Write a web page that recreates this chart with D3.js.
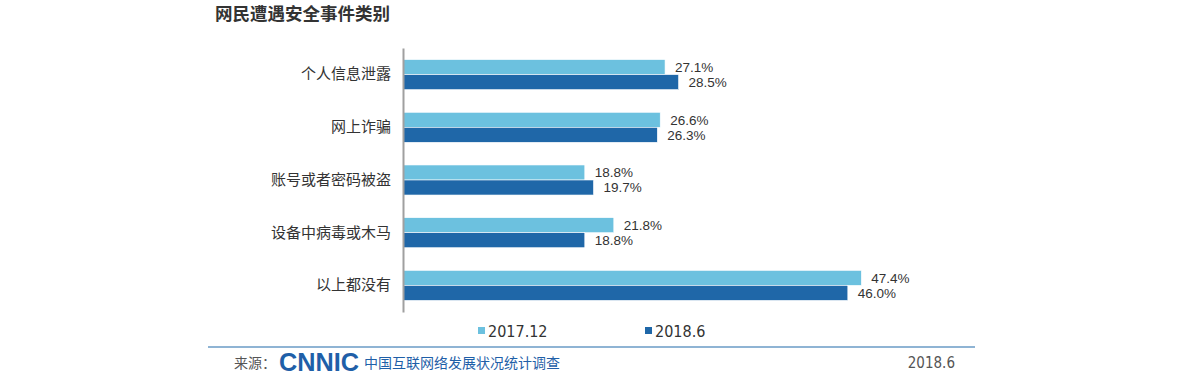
<!DOCTYPE html>
<html>
<head>
<meta charset="utf-8">
<script src="https://cdn.jsdelivr.net/npm/d3@7"></script>
<style>
body { margin: 0; background: #fff; }
svg { display: block; }
</style>
</head>
<body>
<script>
const WIDTH = 1190;
const HEIGHT = 377;

const categories = ['个人信息泄露', '网上诈骗', '账号或者密码被盗', '设备中病毒或木马', '以上都没有'];
const seriesNames = ['2017.12', '2018.6'];
const values2017 = [27.1, 26.6, 18.8, 21.8, 47.4];
const values2018 = [28.5, 26.3, 19.7, 18.8, 46.0];
const colors = ['#6cc1df', '#1f67a8'];

var drawChart = function(){
	var svg = d3.select('body')
		.append('svg')
		.attr('width', WIDTH)
		.attr('height', HEIGHT);

	var x0 = 403;
	var xScale = d3.scaleLinear().domain([0, 10]).range([x0, x0 + 96.7]);
	var yScale = d3.scaleBand().domain(categories).range([48, 312])
		.paddingInner(0.43).paddingOuter(0.22);
	var sub = d3.scaleBand().domain(seriesNames).range([0, yScale.bandwidth()]);

	svg.append('text')
		.attr('x', 215).attr('y', 20)
		.style('font-family', 'Noto Sans CJK SC, sans-serif')
		.style('font-weight', 'bold').style('font-size', '17.5px')
		.attr('fill', '#333')
		.text('网民遭遇安全事件类别');

	var rows = categories.map(function(cat, i){
		return { cat: cat, vals: [values2017[i], values2018[i]] };
	});

	var g = svg.append('g');
	var group = g.selectAll('g.row').data(rows).enter().append('g')
		.attr('transform', function(d){ return 'translate(0,' + yScale(d.cat) + ')'; });

	group.selectAll('rect').data(function(d){
		return d.vals.map(function(v, j){ return { v: v, s: seriesNames[j], j: j }; });
	}).enter().append('rect')
		.attr('x', x0)
		.attr('y', function(d){ return sub(d.s); })
		.attr('width', function(d){ return xScale(d.v) - x0; })
		.attr('height', sub.bandwidth())
		.attr('fill', function(d){ return colors[d.j]; })
		.attr('stroke', '#fff').attr('stroke-width', 0.6);

	group.selectAll('text.val').data(function(d){
		return d.vals.map(function(v, j){ return { v: v, s: seriesNames[j] }; });
	}).enter().append('text')
		.attr('class', 'val')
		.attr('x', function(d){ return xScale(d.v) + 10; })
		.attr('y', function(d){ return sub(d.s) + sub.bandwidth() / 2 + 5; })
		.style('font-family', 'Liberation Sans, Arial, sans-serif')
		.style('font-size', '13.5px')
		.attr('fill', '#333')
		.text(function(d){ return d.v.toFixed(1) + '%'; });

	var yAxis = d3.axisLeft(yScale).tickSize(0).tickPadding(12);
	var ax = svg.append('g')
		.attr('transform', 'translate(' + x0 + ',0)')
		.call(yAxis);
	ax.select('.domain').attr('stroke', '#a0a0a0').attr('stroke-width', 2);
	ax.selectAll('text')
		.style('font-family', 'Noto Sans CJK SC, sans-serif')
		.style('font-size', '15px')
		.attr('fill', '#333');

	// legend
	var lx = [478, 645];
	seriesNames.forEach(function(s, i){
		svg.append('rect').attr('x', lx[i]).attr('y', 327).attr('width', 7).attr('height', 7)
			.attr('fill', colors[i]);
		svg.append('text').attr('x', lx[i] + 10).attr('y', 337)
			.style('font-family', 'DejaVu Sans Condensed, Liberation Sans Narrow, sans-serif')
			.style('font-size', '16px').attr('fill', '#333')
			.text(s);
	});

	// footer
	svg.append('line').attr('x1', 208).attr('x2', 975).attr('y1', 347).attr('y2', 347)
		.attr('stroke', '#8fb4d4').attr('stroke-width', 2);
	svg.append('text').attr('x', 234).attr('y', 368)
		.style('font-family', 'Noto Sans CJK SC, sans-serif').style('font-size', '14px')
		.attr('fill', '#555').text('来源：');
	svg.append('text').attr('x', 279).attr('y', 371)
		.style('font-family', 'Liberation Sans, Arial, sans-serif').style('font-weight', 'bold')
		.style('font-size', '25px').attr('fill', '#1f5fa8')
		.attr('textLength', 80).attr('lengthAdjust', 'spacingAndGlyphs')
		.text('CNNIC');
	svg.append('text').attr('x', 364).attr('y', 368)
		.style('font-family', 'Noto Sans CJK SC, sans-serif').style('font-size', '14px')
		.attr('fill', '#1f5fa8').text('中国互联网络发展状况统计调查');
	svg.append('text').attr('x', 955).attr('y', 368).attr('text-anchor', 'end')
		.style('font-family', 'DejaVu Sans Condensed, sans-serif').style('font-size', '15px')
		.attr('fill', '#555').text('2018.6');
};

window.onload = function(){
	drawChart();
};
</script>
</body>
</html>
